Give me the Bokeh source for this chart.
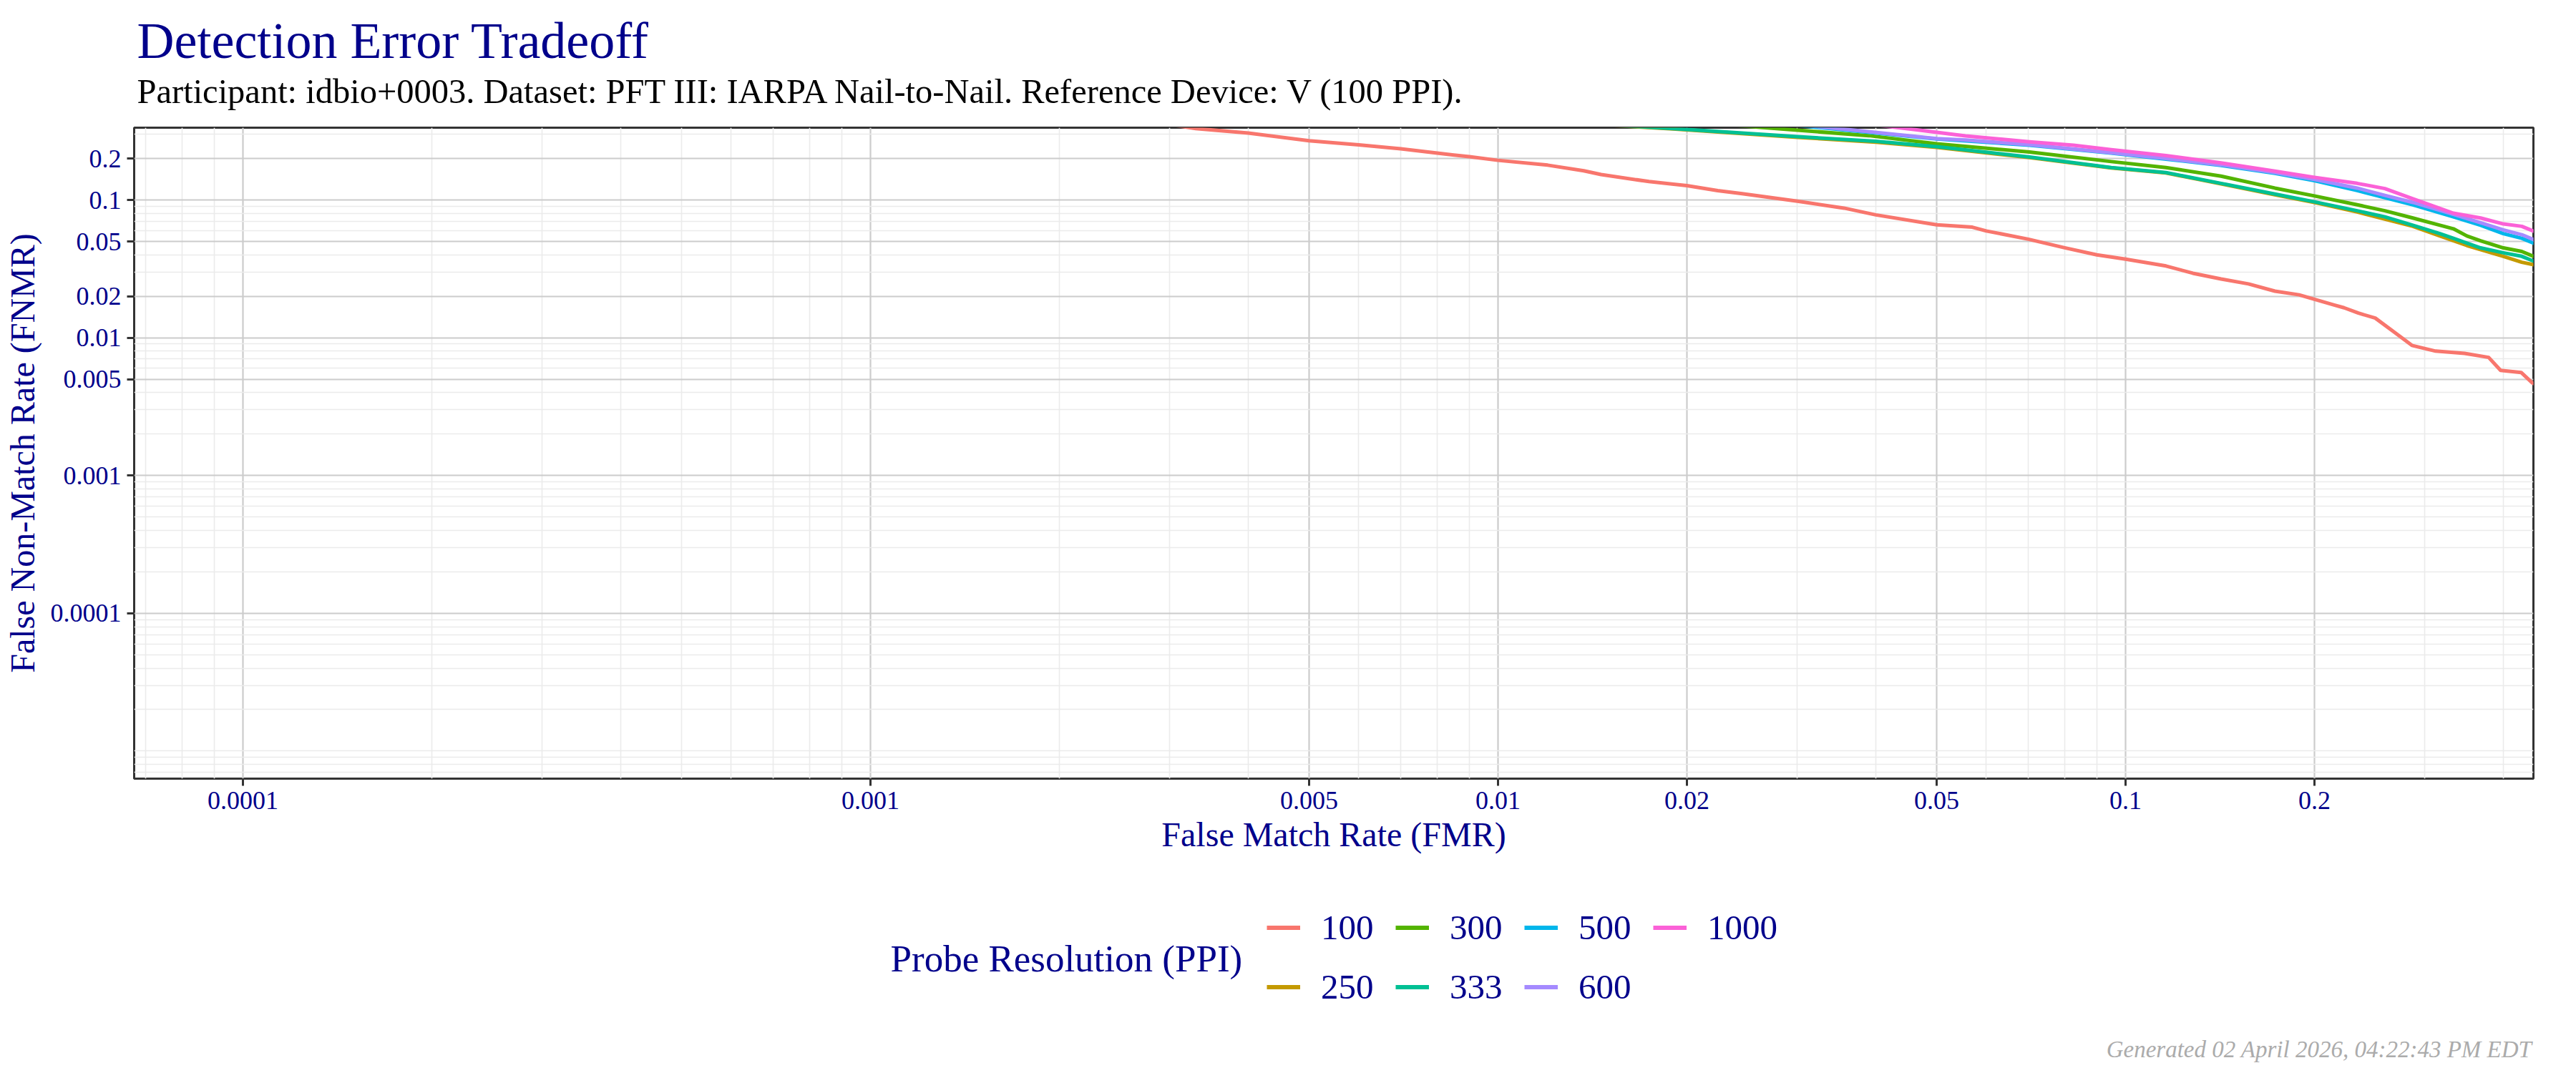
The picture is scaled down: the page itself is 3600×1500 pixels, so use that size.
from bokeh.plotting import figure
from bokeh.layouts import column
from bokeh.models import (Range1d, FixedTicker, CustomJSTickFormatter, Label,
                          Legend, LegendItem)
from bokeh.embed import file_html
from bokeh.resources import INLINE

# ---- DET curves (FMR on x, FNMR on y), one pair of arrays per probe resolution ----
fmr_100 = [0.0025, 0.0033, 0.004, 0.005, 0.006, 0.007, 0.008, 0.009, 0.010, 0.012,
           0.0137, 0.0146, 0.0174, 0.020, 0.0224, 0.0245, 0.030, 0.0356, 0.040, 0.050,
           0.057, 0.060, 0.070, 0.080, 0.090, 0.100, 0.116, 0.128, 0.142, 0.157,
           0.173, 0.189, 0.200, 0.215, 0.223, 0.235, 0.250, 0.268, 0.286, 0.312,
           0.347, 0.379, 0.396, 0.427, 0.445, 0.46]
fnmr_100 = [0.40, 0.33, 0.306, 0.269, 0.251, 0.235, 0.219, 0.206, 0.194, 0.179,
            0.163, 0.153, 0.136, 0.127, 0.117, 0.111, 0.098, 0.0873, 0.078, 0.066,
            0.0635, 0.0596, 0.0519, 0.045, 0.040, 0.0372, 0.0332, 0.0294, 0.0267, 0.0246,
            0.0218, 0.0205, 0.019, 0.0173, 0.0165, 0.0151, 0.0139, 0.011, 0.0088, 0.008,
            0.0077, 0.0072, 0.0058, 0.0056, 0.0047, 0.0044]

fmr_250 = [0.012, 0.019, 0.030, 0.040, 0.050, 0.0703, 0.0949, 0.116, 0.142, 0.173,
           0.200, 0.234, 0.259, 0.287, 0.317, 0.350, 0.400, 0.428, 0.447, 0.46]
fnmr_250 = [0.37, 0.328, 0.285, 0.263, 0.241, 0.203, 0.171, 0.157, 0.131, 0.109,
            0.096, 0.0818, 0.0726, 0.0644, 0.0548, 0.0467, 0.039, 0.0353, 0.0339, 0.033]

fmr_300 = [0.020, 0.029, 0.039, 0.050, 0.0703, 0.0949, 0.116, 0.142, 0.173, 0.200,
           0.234, 0.259, 0.287, 0.317, 0.333, 0.350, 0.368, 0.400, 0.428, 0.447, 0.46]
fnmr_300 = [0.37, 0.325, 0.293, 0.256, 0.223, 0.190, 0.172, 0.149, 0.122, 0.107,
            0.0923, 0.0835, 0.074, 0.0656, 0.0618, 0.0548, 0.0506, 0.0449, 0.0423, 0.039, 0.037]

fmr_333 = [0.012, 0.019, 0.030, 0.040, 0.050, 0.0703, 0.0949, 0.116, 0.142, 0.173,
           0.200, 0.234, 0.259, 0.287, 0.317, 0.333, 0.350, 0.368, 0.400, 0.428, 0.447, 0.46]
fnmr_333 = [0.37, 0.33, 0.288, 0.267, 0.244, 0.205, 0.172, 0.158, 0.132, 0.1105,
            0.097, 0.0835, 0.0755, 0.0656, 0.057, 0.0527, 0.0486, 0.0449, 0.0414, 0.039, 0.036, 0.034]

fmr_500 = [0.026, 0.035, 0.050, 0.0703, 0.0949, 0.116, 0.142, 0.173, 0.200, 0.234,
           0.259, 0.287, 0.333, 0.368, 0.400, 0.428, 0.447, 0.46]
fnmr_500 = [0.37, 0.325, 0.277, 0.250, 0.219, 0.198, 0.178, 0.156, 0.138, 0.117,
            0.104, 0.0923, 0.0755, 0.0656, 0.057, 0.0527, 0.0486, 0.046]

fmr_600 = [0.027, 0.036, 0.050, 0.0556, 0.0703, 0.0949, 0.116, 0.142, 0.173, 0.200,
           0.234, 0.259, 0.287, 0.333, 0.368, 0.400, 0.428, 0.447, 0.46]
fnmr_600 = [0.37, 0.325, 0.279, 0.272, 0.252, 0.220, 0.200, 0.180, 0.158, 0.141,
            0.122, 0.108, 0.096, 0.0787, 0.0684, 0.0606, 0.056, 0.0516, 0.049]

fmr_1000 = [0.036, 0.046, 0.0556, 0.0703, 0.0826, 0.0949, 0.116, 0.142, 0.173, 0.200,
            0.234, 0.259, 0.287, 0.317, 0.333, 0.368, 0.400, 0.428, 0.447, 0.46]
fnmr_1000 = [0.37, 0.325, 0.292, 0.264, 0.250, 0.232, 0.210, 0.186, 0.162, 0.146,
             0.132, 0.121, 0.102, 0.0869, 0.0802, 0.074, 0.067, 0.0644, 0.0594, 0.057]

resolutions = ["100", "250", "300", "333", "500", "600", "1000"]
fmr_series = [fmr_100, fmr_250, fmr_300, fmr_333, fmr_500, fmr_600, fmr_1000]
fnmr_series = [fnmr_100, fnmr_250, fnmr_300, fnmr_333, fnmr_500, fnmr_600, fnmr_1000]
palette = ["#F8766D", "#C49A00", "#53B400", "#00C094", "#00B6EB", "#A58AFF", "#FB61D7"]

# ---- axis ticks ----
x_ticks = [0.0001, 0.001, 0.005, 0.01, 0.02, 0.05, 0.1, 0.2]
y_ticks = [0.0001, 0.001, 0.005, 0.01, 0.02, 0.05, 0.1, 0.2]


def minor_ticks(major, lo_exp, hi_exp):
    out = []
    for e in range(lo_exp, hi_exp + 1):
        for k in range(1, 10):
            v = float(f"{k}e{e}")
            if v not in major:
                out.append(v)
    return out


title_text = "Detection Error Tradeoff"
subtitle_text = ("Participant: idbio+0003. Dataset: PFT III: IARPA Nail-to-Nail. "
                 "Reference Device: V (100 PPI).")
footer_text = "Generated 02 April 2026, 04:22:43 PM EDT"
legend_title = "Probe Resolution (PPI)"
legend_order = ["100", "300", "500", "1000", "250", "333", "600"]  # column-wise in 2 rows

NAVY = "#00008B"
FONT = "Liberation Serif"
W = 3600
LEFT, RIGHT = 187, 3540   # plot frame edges, shared by all strips
HEAD_H = 170              # header strip: title + subtitle
MAIN_H = 1060             # plot panel with its axes
FOOT_H = 1500 - HEAD_H - MAIN_H   # legend + footnote


def blank(height, y_top):
    """A strip whose frame spans LEFT..RIGHT, in page pixel coordinates."""
    f = figure(width=W, height=height, x_range=Range1d(LEFT, RIGHT),
               y_range=Range1d(y_top + height, y_top),
               output_backend="svg", toolbar_location=None, title_location=None,
               x_axis_location=None, y_axis_location=None,
               min_border_left=LEFT, min_border_right=W - RIGHT,
               min_border_top=0, min_border_bottom=0)
    f.outline_line_color = None
    f.xgrid.visible = False
    f.ygrid.visible = False
    f.background_fill_color = "white"
    f.border_fill_color = "white"
    return f


def text(fig, x, y, s, size, color=NAVY, align="left", style="normal"):
    fig.add_layout(Label(x=x, y=y, text=s, text_font=FONT, text_font_size=size,
                         text_font_style=style, text_color=color,
                         text_baseline="middle", text_align=align))


# ---- header ----
head = blank(HEAD_H, 0)
text(head, 191, 56, title_text, "72px")
text(head, 191, 127, subtitle_text, "48.5px", color="black")

# ---- main DET panel ----
p = figure(width=W, height=MAIN_H, x_axis_type="log", y_axis_type="log",
           x_range=Range1d(10 ** -4.1733, 10 ** -0.35),
           y_range=Range1d(10 ** -5.2, 10 ** -0.4753),
           output_backend="svg", toolbar_location=None,
           min_border_left=LEFT, min_border_right=W - RIGHT,
           min_border_top=8, min_border_bottom=142)
p.background_fill_color = "white"
p.border_fill_color = "white"
p.outline_line_color = "#333333"
p.outline_line_width = 3

xt = FixedTicker(ticks=x_ticks, minor_ticks=minor_ticks(x_ticks, -5, -1))
yt = FixedTicker(ticks=y_ticks, minor_ticks=minor_ticks(y_ticks, -6, -1))
p.xaxis.ticker = xt
p.yaxis.ticker = yt
p.xgrid.ticker = xt
p.ygrid.ticker = yt

fmt = CustomJSTickFormatter(code="return String(tick);")
for ax in (p.xaxis, p.yaxis):
    ax.formatter = fmt
    ax.axis_line_color = None
    ax.major_tick_line_color = "#333333"
    ax.major_tick_line_width = 3
    ax.major_tick_out = 10
    ax.major_tick_in = 0
    ax.minor_tick_line_color = None
    ax.major_label_text_font = FONT
    ax.major_label_text_font_size = "36px"
    ax.major_label_text_color = NAVY
    ax.major_label_standoff = 8
    ax.axis_label_text_font = FONT
    ax.axis_label_text_font_size = "48px"
    ax.axis_label_text_font_style = "normal"
    ax.axis_label_text_color = NAVY

p.xaxis.axis_label = "False Match Rate (FMR)"
p.yaxis.axis_label = "False Non-Match Rate (FNMR)"
p.xaxis.axis_label_standoff = 6
p.yaxis.axis_label_standoff = 10

for g in (p.xgrid, p.ygrid):
    g.grid_line_color = "#CCCCCC"
    g.grid_line_width = 2.2
    g.minor_grid_line_color = "#EBEBEB"
    g.minor_grid_line_width = 1.6

for xs, ys, col in zip(fmr_series, fnmr_series, palette):
    p.line(xs, ys, line_width=5, color=col, line_join="round")

# ---- footer: legend and generation note ----
foot_top = HEAD_H + MAIN_H
foot = blank(FOOT_H, foot_top)
keys = {}
for name, col in zip(resolutions, palette):
    # legend swatch only: a single undefined point draws nothing in the strip
    keys[name] = foot.line(x=[float("nan")], y=[float("nan")], line_width=6, color=col)

legend = Legend(items=[LegendItem(label=n, renderers=[keys[n]]) for n in legend_order],
                orientation="horizontal", ncols=4,
                location=(1770 - LEFT, 1500 - 1408),
                glyph_width=47, glyph_height=57, label_standoff=29,
                label_width=78, label_height=57, spacing=26,
                padding=0, margin=0, border_line_color=None,
                background_fill_alpha=0,
                label_text_font=FONT, label_text_font_size="49px",
                label_text_color=NAVY)
foot.add_layout(legend)

text(foot, 1244, 1339, legend_title, "53px")
text(foot, 3538, 1466, footer_text, "33px", color="#ABABAB", align="right",
     style="italic")

page = column(head, p, foot, spacing=0)
open("out.html", "w").write(file_html(page, INLINE))
